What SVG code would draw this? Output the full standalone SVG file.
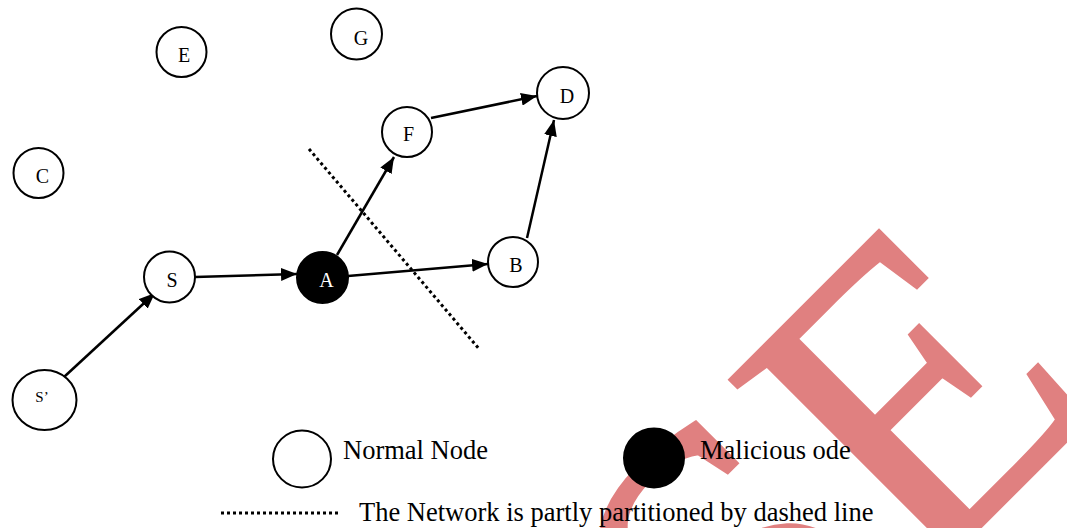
<svg xmlns="http://www.w3.org/2000/svg" width="1067" height="528" viewBox="0 0 1067 528">
<style>
.n{fill:#fff;stroke:#000;stroke-width:2}
.m{fill:#000;stroke:#000;stroke-width:2}
.t{font-family:"Liberation Serif","Times New Roman",serif;font-size:20px;fill:#000;text-anchor:middle}
.lg{font-family:"Liberation Serif","Times New Roman",serif;font-size:26.5px;fill:#000}
.e{stroke:#000;stroke-width:2.5;fill:none;marker-end:url(#ah)}
.dot{stroke:#000;stroke-width:3;stroke-dasharray:3 3;fill:none}
.wm{font-family:"Liberation Serif","Times New Roman",serif;font-size:430px;fill:#e08080;stroke:#e08080;stroke-width:3;stroke-linejoin:miter}
</style>
<defs>
<marker id="ah" markerUnits="userSpaceOnUse" markerWidth="17" markerHeight="13" refX="16" refY="6.5" orient="auto">
<path d="M0,0 L16,6.5 L0,13 z" fill="#000"/>
</marker>
</defs>
<rect width="1067" height="528" fill="#fff"/>
<g id="watermark" transform="translate(920,587.6) rotate(-45)">
<text class="wm" x="-239" y="0">S</text>
<text class="wm" x="0" y="0">E</text>
</g>
<g id="partition">
<line class="dot" x1="309" y1="149" x2="480" y2="350"/>
</g>
<g id="connectors">
<line class="e" x1="64" y1="377" x2="155" y2="293"/>
<line class="e" x1="195" y1="277" x2="297" y2="274"/>
<line class="e" x1="337" y1="255" x2="394" y2="157"/>
<line class="e" x1="348" y1="276" x2="488" y2="264"/>
<line class="e" x1="431" y1="118" x2="537" y2="96"/>
<line class="e" x1="527" y1="238" x2="554" y2="120"/>
</g>
<g id="node-E"><circle class="n" cx="181.5" cy="52" r="25"/><text class="t" x="184" y="62">E</text></g>
<g id="node-G"><circle class="n" cx="356.5" cy="34" r="25.5"/><text class="t" x="361" y="45">G</text></g>
<g id="node-C"><circle class="n" cx="38.5" cy="173" r="25"/><text class="t" x="42.5" y="183">C</text></g>
<g id="node-F"><circle class="n" cx="407" cy="132" r="25"/><text class="t" x="408.5" y="141">F</text></g>
<g id="node-D"><circle class="n" cx="563" cy="93" r="26"/><text class="t" x="567" y="103">D</text></g>
<g id="node-B"><circle class="n" cx="513" cy="262" r="25"/><text class="t" x="516" y="272">B</text></g>
<g id="node-S"><circle class="n" cx="169.5" cy="277" r="25.5"/><text class="t" x="172" y="287">S</text></g>
<g id="node-A"><circle class="m" cx="322.5" cy="277.5" r="25.5"/><text class="t" x="326.5" y="287" style="fill:#fff">A</text></g>
<g id="node-S2"><ellipse class="n" cx="44.5" cy="400" rx="32" ry="30"/><text class="t" x="42" y="402" style="font-size:15px">S’</text></g>
<g id="legend">
<ellipse class="n" cx="302" cy="459" rx="29" ry="28.5"/>
<text class="lg" x="343" y="459">Normal Node</text>
<ellipse class="m" cx="654" cy="458" rx="30" ry="29.5"/>
<text class="lg" x="700" y="459">Malicious ode</text>
<line class="dot" x1="221" y1="513" x2="340" y2="513"/>
<text class="lg" x="359" y="521">The Network is partly partitioned by dashed line</text>
</g>
</svg>
